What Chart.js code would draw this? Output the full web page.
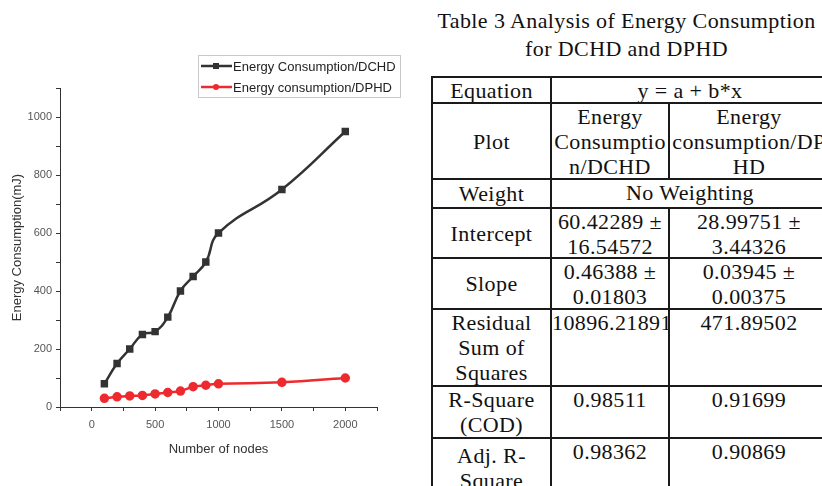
<!DOCTYPE html>
<html lang="en">
<head>
    <meta charset="UTF-8">
    <title>Energy Consumption DCHD / DPHD</title>
    <script src="https://cdn.jsdelivr.net/npm/chart.js@4.4.0/dist/chart.umd.min.js"></script>
    <style>
        body {
            margin: 0;
            width: 822px;
            height: 486px;
            overflow: hidden;
            background: #fff;
            position: relative;
        }
        #chart-box {
            position: absolute;
            left: 0;
            top: 0;
            width: 420px;
            height: 486px;
        }
        #table-title {
            position: absolute;
            left: 431px;
            top: 7px;
            width: 391px;
            text-align: center;
            font-family: "Liberation Serif", "Times New Roman", serif;
            font-size: 22px;
            line-height: 28px;
            letter-spacing: 0.4px;
            color: #111;
        }
        #stats {
            position: absolute;
            left: 431px;
            top: 76px;
            width: 397px;
            border-collapse: collapse;
            table-layout: fixed;
            font-family: "Liberation Serif", "Times New Roman", serif;
            font-size: 22px;
            line-height: 25px;
            letter-spacing: 0.4px;
            color: #111;
        }
        #stats td {
            border: 2px solid #1a1a1a;
            padding: 0;
            text-align: center;
            vertical-align: top;
            white-space: nowrap;
        }
        #stats td .c {
            overflow: hidden;
        }
        #stats td.lbl .c {
            display: flex;
            align-items: center;
            justify-content: center;
        }
    </style>
</head>
<body>
<div id="chart-box"><canvas id="energyChart"></canvas></div>

<div id="table-title">Table 3 Analysis of Energy Consumption<br>for DCHD and DPHD</div>

<table id="stats">
    <colgroup>
        <col style="width:119px">
        <col style="width:118px">
        <col style="width:160px">
    </colgroup>
    <tbody id="stats-body"></tbody>
</table>

<script>
// data
const nodes = [100, 200, 300, 400, 500, 600, 700, 800, 900, 1000, 1500, 2000];
const dchd  = [80, 150, 200, 250, 260, 310, 400, 450, 500, 600, 750, 950];
const dphd  = [30, 35, 38, 40, 45, 50, 55, 70, 75, 80, 85, 100];
const seriesNames = ["Energy Consumption/DCHD", "Energy consumption/DPHD"];
const yTicks = [0, 200, 400, 600, 800, 1000];
const xTicks = [0, 500, 1000, 1500, 2000];

// table text (Table 3)
const rowLabels = ["Equation", "Plot", "Weight", "Intercept", "Slope", "Residual<br>Sum of<br>Squares", "R-Square<br>(COD)", "Adj. R-<br>Square"];
const rowHeights = [26, 76, 29, 50, 51, 77, 52, 60];
const colDCHD = ["Energy<br>Consumptio<br>n/DCHD", "60.42289 ±<br>16.54572", "0.46388 ±<br>0.01803", "10896.21891", "0.98511", "0.98362"];
const colDPHD = ["Energy<br>consumption/DP<br>HD", "28.99751 ±<br>3.44326", "0.03945 ±<br>0.00375", "471.89502", "0.91699", "0.90869"];
const spanRows = { 0: "y = a + b*x", 2: "No Weighting" };

// build the table
function cell(txt, h, cls, span) {
    return '<td' + (cls ? ' class="' + cls + '"' : '') + (span ? ' colspan="' + span + '"' : '') +
        '><div class="c" style="height:' + (h - 2) + 'px"><span>' + txt + '</span></div></td>';
}
var tb = document.getElementById("stats-body");
var k = 0;
for (let i = 0; i < rowLabels.length; i++) {
    var tr = document.createElement("tr");
    var h = rowHeights[i];
    var html = cell(rowLabels[i], h, "lbl");
    if (spanRows[i] !== undefined) {
        html += cell(spanRows[i], h, "", 2);
    } else {
        html += cell(colDCHD[k], h) + cell(colDPHD[k], h);
        k++;
    }
    tr.innerHTML = html;
    tb.appendChild(tr);
}

// legend box drawn on the canvas, top right of the plot
const boxLegend = {
    id: "boxLegend",
    afterDraw(chart) {
        const ctx = chart.ctx;
        const x0 = 198, y0 = 55, w = 202, h = 42;
        ctx.save();
        ctx.strokeStyle = "#c8c8c8";
        ctx.lineWidth = 1;
        ctx.strokeRect(x0 + 0.5, y0 + 0.5, w, h);
        chart.data.datasets.forEach((ds, i) => {
            const y = y0 + 11 + i * 21;
            ctx.strokeStyle = ds.borderColor;
            ctx.lineWidth = 2.5;
            ctx.beginPath();
            ctx.moveTo(x0 + 3, y);
            ctx.lineTo(x0 + 34, y);
            ctx.stroke();
            ctx.fillStyle = ds.pointBackgroundColor;
            if (ds.pointStyle === "rect") {
                ctx.fillRect(x0 + 15, y - 3, 6, 6);
            } else {
                ctx.beginPath();
                ctx.arc(x0 + 18, y, 3, 0, Math.PI * 2);
                ctx.fill();
            }
            ctx.fillStyle = "#222";
            ctx.font = "13px 'Liberation Sans', Arial, sans-serif";
            ctx.textBaseline = "middle";
            ctx.fillText(ds.label, x0 + 35, y + 1);
        });
        ctx.restore();
    }
};

var ctx = document.getElementById("energyChart");
var energyChart = new Chart(ctx, {
    type: "line",
    data: {
        datasets: [
            {
                label: seriesNames[0],
                data: nodes.map((n, i) => ({ x: n, y: dchd[i] })),
                borderColor: "#333333",
                backgroundColor: "#333333",
                pointBackgroundColor: "#333333",
                pointBorderColor: "#333333",
                pointStyle: "rect",
                pointRadius: 3.5,
                borderWidth: 2.5,
                tension: 0.45,
                fill: false
            },
            {
                label: seriesNames[1],
                data: nodes.map((n, i) => ({ x: n, y: dphd[i] })),
                borderColor: "#ee2a2f",
                backgroundColor: "#ee2a2f",
                pointBackgroundColor: "#ee2a2f",
                pointBorderColor: "#ee2a2f",
                pointStyle: "circle",
                pointRadius: 3.5,
                borderWidth: 2.5,
                tension: 0.45,
                fill: false
            }
        ]
    },
    options: {
        responsive: true,
        maintainAspectRatio: false,
        animation: false,
        layout: { padding: { left: 0, right: 43, top: 88, bottom: 29 } },
        plugins: {
            legend: { display: false },
            tooltip: { enabled: false }
        },
        scales: {
            x: {
                type: "linear",
                min: -250,
                max: 2250,
                afterFit: (scale) => { scale.height = 50; },
                afterBuildTicks: (scale) => {
                    var t = [];
                    for (let v = -250; v <= 2250; v += 250) t.push({ value: v });
                    scale.ticks = t;
                },
                border: { display: true, color: "#333", width: 1 },
                grid: { display: true, drawOnChartArea: false, drawTicks: true, tickLength: 4, color: "#333" },
                ticks: {
                    padding: 7,
                    autoSkip: false,
                    maxRotation: 0,
                    color: "#555",
                    font: { family: "'Liberation Sans', Arial, sans-serif", size: 11 },
                    callback: (v) => xTicks.includes(v) ? String(v) : ""
                },
                title: {
                    display: true,
                    text: "Number of nodes",
                    color: "#333",
                    font: { family: "'Liberation Sans', Arial, sans-serif", size: 13 },
                    padding: { top: 6, bottom: 0 }
                }
            },
            y: {
                type: "linear",
                min: 0,
                max: 1100,
                afterFit: (scale) => { scale.width = 60; },
                afterBuildTicks: (scale) => {
                    var t = [];
                    for (let v = 0; v <= 1100; v += 100) t.push({ value: v });
                    scale.ticks = t;
                },
                border: { display: true, color: "#333", width: 1 },
                grid: { display: true, drawOnChartArea: false, drawTicks: true, tickLength: 4, color: "#333" },
                ticks: {
                    padding: 4,
                    autoSkip: false,
                    color: "#555",
                    font: { family: "'Liberation Sans', Arial, sans-serif", size: 11 },
                    callback: (v) => yTicks.includes(v) ? String(v) : ""
                },
                title: {
                    display: true,
                    text: "Energy Consumption(mJ)",
                    color: "#333",
                    font: { family: "'Liberation Sans', Arial, sans-serif", size: 13 },
                    padding: { top: 10, bottom: 0 }
                }
            }
        }
    },
    plugins: [boxLegend]
});
</script>
</body>
</html>
